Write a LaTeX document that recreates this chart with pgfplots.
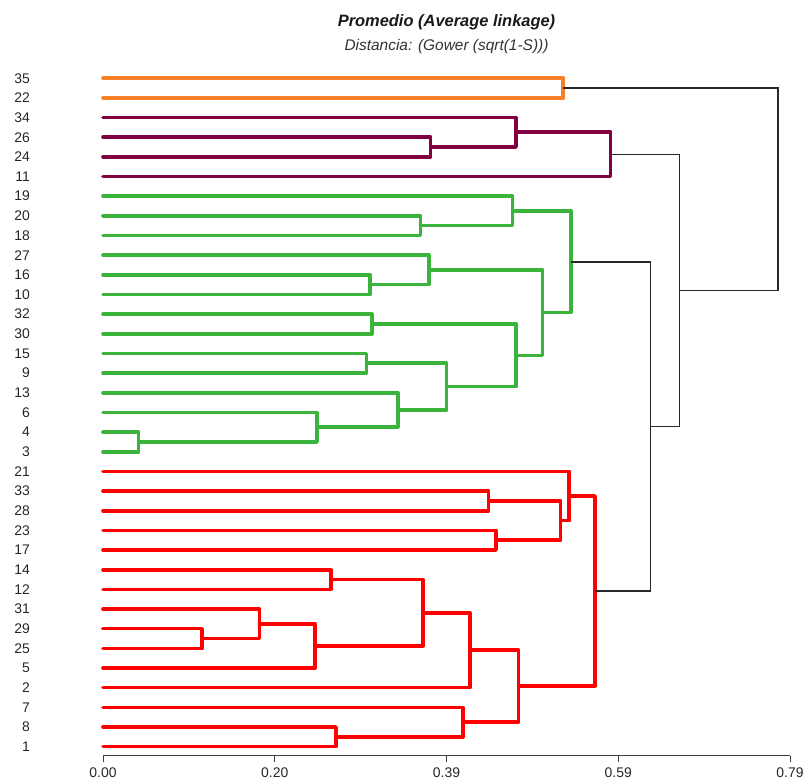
\documentclass[border=0pt]{standalone}
\usepackage{fontspec}
\setmainfont{Liberation Sans}
\usepackage{pgfplots}
\pgfplotsset{compat=1.18}
\definecolor{corange}{RGB}{245,128,37}
\definecolor{cpurple}{RGB}{128,0,64}
\definecolor{cgreen}{RGB}{58,180,58}
\definecolor{cred}{RGB}{255,0,0}
\definecolor{clink}{RGB}{40,40,40}
\definecolor{caxis}{RGB}{60,60,60}
\begin{document}
\begin{tikzpicture}
\begin{axis}[
  at={(103bp,24.3bp)}, anchor=south west,
  scale only axis, width=687bp, height=687.3bp,
  xmin=0, xmax=0.79, ymin=-0.46, ymax=34.5,
  clip=false,
  axis lines*=left,
  axis line style={-, caxis, line width=1bp},
  y axis line style={draw=none},
  xtick={0,0.1975,0.395,0.5925,0.79},
  xticklabels={0.00,0.20,0.39,0.59,0.79},
  xtick align=outside,
  x tick style={caxis, line width=1bp},
  major tick length=6bp,
  ytick={0,...,34},
  yticklabels={1,8,7,2,5,25,29,31,12,14,17,23,28,33,21,3,4,6,13,9,15,30,32,10,16,27,18,20,19,11,24,26,34,22,35},
  y tick style={draw=none},
  ticklabel style={font=\fontsize{14}{15}\selectfont, text=black!85},
  yticklabel style={anchor=east, inner sep=0pt, xshift=-73bp},
  xticklabel style={anchor=north, inner sep=0pt, yshift=-5.5bp},
  every axis plot/.append style={line cap=round, line join=round},
  cl/.style={line width=3.6bp},
]
% ---- orange
\addplot[corange, cl] coordinates {(0,34) (0.5293,34) (0.5293,33) (0,33)};
% ---- purple
\addplot[cpurple, cl] coordinates {(0,31) (0.3768,31) (0.3768,30) (0,30)};
\addplot[cpurple, cl] coordinates {(0,32) (0.4749,32) (0.4749,30.5) (0.3768,30.5)};
\addplot[cpurple, cl] coordinates {(0.4749,31.25) (0.5838,31.25) (0.5838,29) (0,29)};
% ---- green
\addplot[cgreen, cl] coordinates {(0,27) (0.365,27) (0.365,26) (0,26)};
\addplot[cgreen, cl] coordinates {(0,28) (0.471,28) (0.471,26.5) (0.365,26.5)};
\addplot[cgreen, cl] coordinates {(0,24) (0.307,24) (0.307,23) (0,23)};
\addplot[cgreen, cl] coordinates {(0,25) (0.375,25) (0.375,23.5) (0.307,23.5)};
\addplot[cgreen, cl] coordinates {(0,22) (0.309,22) (0.309,21) (0,21)};
\addplot[cgreen, cl] coordinates {(0,20) (0.303,20) (0.303,19) (0,19)};
\addplot[cgreen, cl] coordinates {(0,16) (0.041,16) (0.041,15) (0,15)};
\addplot[cgreen, cl] coordinates {(0,17) (0.246,17) (0.246,15.5) (0.041,15.5)};
\addplot[cgreen, cl] coordinates {(0,18) (0.339,18) (0.339,16.25) (0.246,16.25)};
\addplot[cgreen, cl] coordinates {(0.303,19.5) (0.395,19.5) (0.395,17.125) (0.339,17.125)};
\addplot[cgreen, cl] coordinates {(0.309,21.5) (0.475,21.5) (0.475,18.3125) (0.395,18.3125)};
\addplot[cgreen, cl] coordinates {(0.375,24.25) (0.5055,24.25) (0.5055,19.906) (0.475,19.906)};
\addplot[cgreen, cl] coordinates {(0.471,27.25) (0.538,27.25) (0.538,22.078) (0.5055,22.078)};
% ---- red
\addplot[cred, cl] coordinates {(0,13) (0.4435,13) (0.4435,12) (0,12)};
\addplot[cred, cl] coordinates {(0,11) (0.4519,11) (0.4519,10) (0,10)};
\addplot[cred, cl] coordinates {(0.4435,12.5) (0.5263,12.5) (0.5263,10.5) (0.4519,10.5)};
\addplot[cred, cl] coordinates {(0,14) (0.5362,14) (0.5362,11.5) (0.5263,11.5)};
\addplot[cred, cl] coordinates {(0,9) (0.262,9) (0.262,8) (0,8)};
\addplot[cred, cl] coordinates {(0,6) (0.114,6) (0.114,5) (0,5)};
\addplot[cred, cl] coordinates {(0,7) (0.180,7) (0.180,5.5) (0.114,5.5)};
\addplot[cred, cl] coordinates {(0.180,6.25) (0.244,6.25) (0.244,4) (0,4)};
\addplot[cred, cl] coordinates {(0.262,8.5) (0.368,8.5) (0.368,5.125) (0.244,5.125)};
\addplot[cred, cl] coordinates {(0.368,6.8125) (0.422,6.8125) (0.422,3) (0,3)};
\addplot[cred, cl] coordinates {(0,1) (0.268,1) (0.268,0) (0,0)};
\addplot[cred, cl] coordinates {(0,2) (0.414,2) (0.414,0.5) (0.268,0.5)};
\addplot[cred, cl] coordinates {(0.422,4.906) (0.478,4.906) (0.478,1.25) (0.414,1.25)};
\addplot[cred, cl] coordinates {(0.5362,12.75) (0.5658,12.75) (0.5658,3.078) (0.478,3.078)};
% ---- black links
\addplot[clink, line width=1.5bp, line cap=butt, line join=miter] coordinates {(0.538,24.664) (0.6298,24.664) (0.6298,7.914) (0.5658,7.914)};
\addplot[clink, line width=1.5bp, line cap=butt, line join=miter] coordinates {(0.5838,30.125) (0.6627,30.125) (0.6627,16.289) (0.6298,16.289)};
\addplot[clink, line width=1.5bp, line cap=butt, line join=miter] coordinates {(0.5293,33.5) (0.7762,33.5) (0.7762,23.207) (0.6627,23.207)};
\end{axis}
\node[font=\bfseries\itshape\fontsize{16.5}{18}\selectfont, text=black!90] at (446.5bp,758bp) {Promedio (Average linkage)};
\node[font=\itshape\fontsize{15.5}{17}\selectfont, text=black!80] at (446.5bp,733bp) {Distancia: (Gower (sqrt(1-S)))};
\pgfresetboundingbox
\path (0,0) rectangle (806bp,780bp);
\end{tikzpicture}
\end{document}
